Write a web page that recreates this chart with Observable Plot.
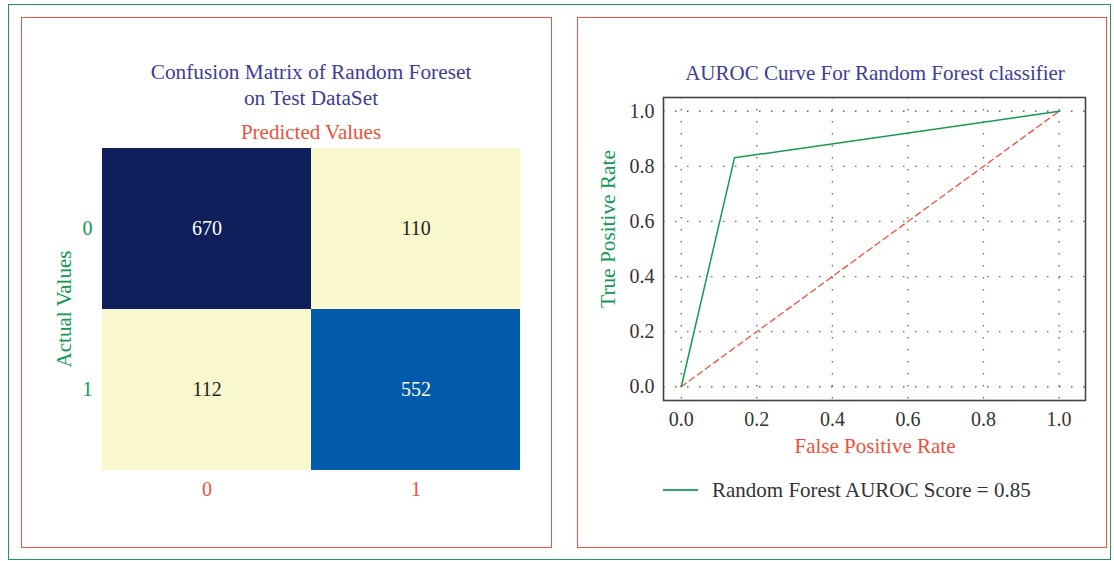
<!DOCTYPE html>
<html>
<head>
<meta charset="utf-8">
<script src="https://cdn.jsdelivr.net/npm/d3@7"></script>
<script src="https://cdn.jsdelivr.net/npm/@observablehq/plot@0.6"></script>
<style>
  html, body { margin: 0; padding: 0; background: #fff; }
  #page { position: relative; width: 1114px; height: 561px; overflow: hidden; font-family: "Liberation Serif", "DejaVu Serif", serif; }
  .box { position: absolute; box-sizing: border-box; }
  .t { position: absolute; white-space: nowrap; line-height: 1; transform: translate(-50%, -50%); }
  .v { position: absolute; white-space: nowrap; line-height: 1; transform: translate(-50%, -50%) rotate(-90deg); }
  .plot { position: absolute; }
  .plot svg { overflow: visible; }
</style>
</head>
<body>
<div id="page">
  <div class="box" style="left:8px;top:4px;width:1103px;height:556px;border:1.6px solid #22994f;"></div>
  <div class="box" style="left:21px;top:17px;width:531px;height:531px;border:1.6px solid #f2553f;"></div>
  <div class="box" style="left:577px;top:17px;width:530px;height:531px;border:1.6px solid #f2553f;"></div>

  <div class="t" style="left:311px;top:73px;font-size:21.3px;color:#403c96;">Confusion Matrix of Random Foreset</div>
  <div class="t" style="left:311px;top:99px;font-size:21.3px;color:#403c96;">on Test DataSet</div>
  <div class="t" style="left:311px;top:132px;font-size:21px;color:#f0503a;">Predicted Values</div>
  <div class="v" style="left:64px;top:309px;font-size:21px;color:#0f9850;">Actual Values</div>
  <div id="cm" class="plot" style="left:22px;top:140px;"></div>

  <div class="t" style="left:875px;top:73px;font-size:21px;color:#403c96;">AUROC Curve For Random Forest classifier</div>
  <div id="roc" class="plot" style="left:578px;top:90px;"></div>
  <div class="v" style="left:609px;top:229px;font-size:21.3px;color:#0f9850;">True Positive Rate</div>
  <div class="t" style="left:875px;top:446px;font-size:21px;color:#f0503a;">False Positive Rate</div>
  <div style="position:absolute;left:663px;top:489px;width:35px;height:2px;background:#2ea866;"></div>
  <div style="position:absolute;left:712px;top:480px;font-size:21px;line-height:1;color:#333;white-space:nowrap;">Random Forest AUROC Score = 0.85</div>
</div>
<script>
// ---- Confusion matrix data ----
const classes = ["0", "1"];
const actualLabels = ["0", "0", "1", "1"];
const predictedLabels = ["0", "1", "0", "1"];
const cellCounts = [670, 110, 112, 552];

// ---- ROC data ----
const rocFPR = [0.0, 0.141, 1.0];
const rocTPR = [0.0, 0.831, 1.0];
const chanceFPR = [0.0, 1.0];
const chanceTPR = [0.0, 1.0];
const rateTicks = [0, 0.2, 0.4, 0.6, 0.8, 1.0];

const red = "#f0503a";
const green = "#0f9850";

const cmData = cellCounts.map((c, i) => ({actual: actualLabels[i], predicted: predictedLabels[i], count: c}));

const cm = Plot.plot({
  width: 529, height: 370,
  marginLeft: 80, marginRight: 31, marginTop: 8, marginBottom: 40,
  style: {fontFamily: "Liberation Serif, serif", fontSize: "20px", background: "transparent"},
  x: {domain: classes, padding: 0, axis: null},
  y: {domain: classes, padding: 0, axis: null},
  color: {type: "linear", domain: [110, 552, 670], range: ["#f9f8cd", "#025aab", "#0f1f5c"]},
  marks: [
    Plot.cell(cmData, {x: "predicted", y: "actual", fill: "count"}),
    Plot.text(cmData, {x: "predicted", y: "actual", text: d => String(d.count), fontSize: 20,
      fill: d => d.count > 400 ? "#ffffff" : "#222222"}),
    Plot.axisX({tickSize: 0, tickPadding: 11, fill: red, fontSize: 20, label: null}),
    Plot.axisY({tickSize: 0, tickPadding: 10, fill: green, fontSize: 20, label: null})
  ]
});
document.getElementById("cm").appendChild(cm);

const rocData = rocFPR.map((x, i) => ({fpr: x, tpr: rocTPR[i]}));
const chanceData = chanceFPR.map((x, i) => ({fpr: x, tpr: chanceTPR[i]}));

const roc = Plot.plot({
  width: 528, height: 380,
  marginLeft: 85, marginRight: 21, marginTop: 7, marginBottom: 70,
  style: {fontFamily: "Liberation Serif, serif", fontSize: "20px", background: "transparent"},
  x: {domain: [-0.047, 1.07], ticks: rateTicks, tickFormat: ".1f", label: null},
  y: {domain: [-0.05, 1.05], ticks: rateTicks, tickFormat: ".1f", label: null},
  marks: [
    Plot.gridX(rateTicks, {stroke: "#666", strokeOpacity: 1, strokeWidth: 1.3, strokeDasharray: "1.5,10.5"}),
    Plot.gridY(rateTicks, {stroke: "#666", strokeOpacity: 1, strokeWidth: 1.3, strokeDasharray: "1.5,10.5"}),
    Plot.line(chanceData, {x: "fpr", y: "tpr", stroke: red, strokeWidth: 1.3, strokeDasharray: "6,4"}),
    Plot.line(rocData, {x: "fpr", y: "tpr", stroke: "#159a4e", strokeWidth: 1.5}),
    Plot.frame({stroke: "#444", strokeWidth: 1.6}),
    Plot.axisX(rateTicks, {tickSize: 0, tickPadding: 11, fill: "#333", fontSize: 20, tickFormat: ".1f", label: null}),
    Plot.axisY(rateTicks, {tickSize: 0, tickPadding: 9, fill: "#333", fontSize: 20, tickFormat: ".1f", label: null})
  ]
});
document.getElementById("roc").appendChild(roc);
</script>
</body>
</html>
